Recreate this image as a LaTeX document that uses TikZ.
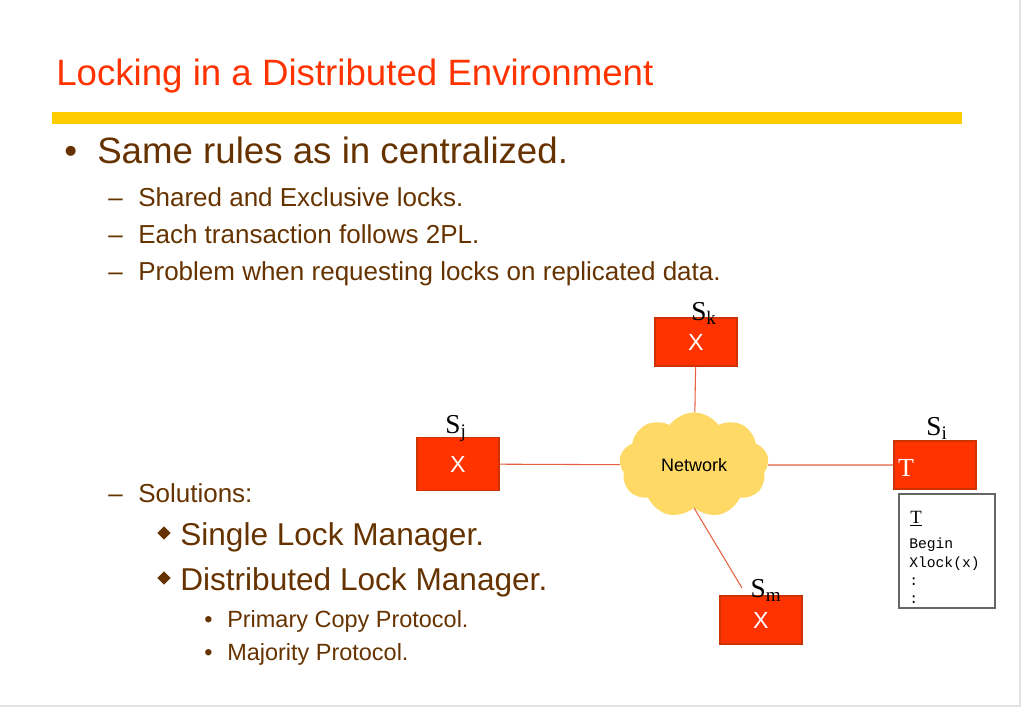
\documentclass[tikz,border=0pt]{standalone}
\usepackage{fontspec}
\setmainfont{Liberation Sans}
\newfontfamily\timesfont{Liberation Serif}
\newfontfamily\codefont{Liberation Mono}
\usetikzlibrary{shapes,positioning}
\definecolor{slidered}{RGB}{255,51,0}
\definecolor{siteedge}{RGB}{204,51,0}
\definecolor{baryellow}{RGB}{255,204,0}
\definecolor{textbrown}{RGB}{102,51,0}
\definecolor{cloudyellow}{RGB}{255,217,102}
\definecolor{linkred}{RGB}{232,96,64}
\definecolor{framegray}{RGB}{226,226,226}
\newcommand{\fsz}[1]{\fontsize{#1}{#1}\selectfont}

\begin{document}
\begin{tikzpicture}[x=0.75pt, y=-0.75pt,
    item/.style={anchor=base west, inner sep=0pt, text=textbrown},
    sitebox/.style={rectangle, fill=slidered, draw=siteedge, line width=1pt,
                    minimum width=61.5pt, minimum height=36pt, text=white, font=\fsz{17.5}},
    slabel/.style={anchor=base, inner sep=0pt, font=\timesfont\fsz{20.5}},
    link/.style={draw=linkred, line width=0.8pt},
    code/.style={anchor=base west, inner sep=0pt, font=\codefont\fsz{11}}
]
\useasboundingbox (0,0) rectangle (1023,708);
\draw[framegray, line width=1pt] (1020,0) -- (1020,706) -- (0,706);

% Title and bar
\node[anchor=base west, inner sep=0pt, text=slidered, font=\fsz{27.5}] (title) at (56,85)
     {Locking in a Distributed Environment};
\fill[baryellow] (52,112) rectangle (962,124);

% Bullet list
\node[item, font=\fsz{27.5}] (b1) at (64,163) {•};
\node[item, font=\fsz{27.5}] (same) at (97,163) {Same rules as in centralized.};
\node[item, font=\fsz{19.5}] (d1) at (108,206) {–};
\node[item, font=\fsz{19.5}] (shared) at (138,206) {Shared and Exclusive locks.};
\node[item, font=\fsz{19.5}] (d2) at (108,243) {–};
\node[item, font=\fsz{19.5}] (each) at (138,243) {Each transaction follows 2PL.};
\node[item, font=\fsz{19.5}] (d3) at (108,280) {–};
\node[item, font=\fsz{19.5}] (problem) at (138,280) {Problem when requesting locks on replicated data.};
\node[item, font=\fsz{19.5}] (d4) at (108,502) {–};
\node[item, font=\fsz{19.5}] (solutions) at (138,502) {Solutions:};
\node[diamond, fill=textbrown, inner sep=0pt, minimum size=10pt] (m1) at (164,533) {};
\node[item, font=\fsz{23.7}] (single) at (180,545) {Single Lock Manager.};
\node[diamond, fill=textbrown, inner sep=0pt, minimum size=10pt] (m2) at (164,578) {};
\node[item, font=\fsz{23.7}] (distributed) at (180,590) {Distributed Lock Manager.};
\node[item, font=\fsz{17.6}] (p1) at (204,627) {•};
\node[item, font=\fsz{17.6}] (primary) at (227,627) {Primary Copy Protocol.};
\node[item, font=\fsz{17.6}] (p2) at (204,660) {•};
\node[item, font=\fsz{17.6}] (majority) at (227,660) {Majority Protocol.};

% Sites and network
\node[cloud, cloud puffs=9, cloud puff arc=110, aspect=1.45, fill=cloudyellow,
      minimum width=112pt, minimum height=79pt, font=\fsz{13.5}] (net) at (694,465) {Network};
\node[sitebox] (sk) at (696,342) {X};
\node[sitebox, minimum height=40pt] (sj) at (458,464) {X};
\node[sitebox] (si) at (935,465) {};
\node[sitebox] (sm) at (761,620) {X};
\node[anchor=center, inner sep=0pt, text=white, font=\timesfont\fsz{19.5}] (sit) at (906,468) {T};
\coordinate (smend) at (742,588);

\draw[link] (sk) -- (net);
\draw[link] (sj) -- (net);
\draw[link] (net) -- (si);
\draw[link] (net.south) -- (smend);

\node[slabel] (skl) at (704,320) {S\textsubscript{k}};
\node[slabel] (sjl) at (456,433) {S\textsubscript{j}};
\node[slabel] (sil) at (937,435) {S\textsubscript{i}};
\node[slabel] (sml) at (766,597) {S\textsubscript{m}};

% Transaction at S_i
\node[draw=black!60, fill=white, line width=0.8pt, minimum width=72pt, minimum height=85.5pt,
      inner sep=0pt] (tbox) at (947,551) {};
\node[anchor=base west, inner sep=0pt, font=\timesfont\fsz{14}] (tname) at (910,523) {\underline{T}};
\node[code] (c1) at (909,548) {Begin};
\node[code] (c2) at (909,567) {Xlock(x)};
\node[code] (c3) at (909,585) {:};
\node[code] (c4) at (909,603) {:};
\end{tikzpicture}
\end{document}
